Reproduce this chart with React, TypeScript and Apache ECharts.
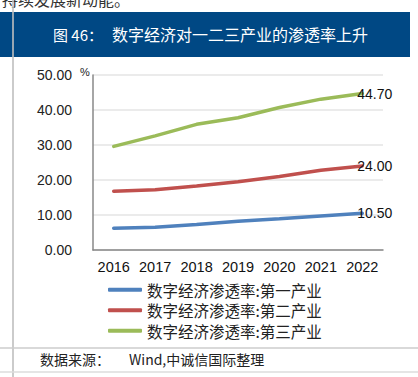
import React, { useEffect, useRef } from "react";
import * as echarts from "echarts";

const years = ["2016", "2017", "2018", "2019", "2020", "2021", "2022"];
const primary = [6.2, 6.5, 7.3, 8.2, 8.9, 9.7, 10.5];
const secondary = [16.8, 17.2, 18.3, 19.5, 21.0, 22.8, 24.0];
const tertiary = [29.6, 32.6, 35.9, 37.8, 40.7, 43.1, 44.7];
const seriesNames = [
  "数字经济渗透率:第一产业",
  "数字经济渗透率:第二产业",
  "数字经济渗透率:第三产业",
];
const colors = ["#4F81BD", "#C0504D", "#9BBB59"];
const titleLabel = "图 46：";
const titleText = "数字经济对一二三产业的渗透率上升";
const sourceLabel = "数据来源：";
const sourceText = "Wind,中诚信国际整理";
const topText = "持续发展新动能。";

const CJK = "'Noto Sans CJK SC', 'Noto Sans', sans-serif";
const NUM = "'Liberation Sans', Arial, sans-serif";

export default function App() {
  const ref = useRef<HTMLDivElement>(null);
  useEffect(() => {
    document.body.style.margin = "0";
    const chart = echarts.init(ref.current!, undefined, { renderer: "svg" });
    const datasets = [primary, secondary, tertiary];
    chart.setOption({
      animation: false,
      backgroundColor: "#ffffff",
      grid: { left: 93, right: 35, top: 75, bottom: 127, containLabel: false },
      legend: {
        orient: "vertical",
        left: 103,
        top: 277,
        itemWidth: 34,
        itemHeight: 4,
        itemGap: 5,
        icon: "roundRect",
        textStyle: { fontSize: 15.5, fontFamily: CJK, color: "#222" },
        data: seriesNames,
      },
      xAxis: {
        type: "category",
        data: years,
        boundaryGap: true,
        axisLine: { lineStyle: { color: "#888", width: 1.5 } },
        axisTick: { show: false },
        axisLabel: {
          interval: 0,
          fontSize: 14.5,
          fontFamily: NUM,
          color: "#111",
          margin: 9,
        },
      },
      yAxis: {
        type: "value",
        min: 0,
        max: 50,
        interval: 10,
        axisLine: { show: true, lineStyle: { color: "#888", width: 1.5 } },
        axisTick: { show: false },
        axisLabel: {
          fontSize: 14,
          fontFamily: NUM,
          color: "#222",
          margin: 21,
          formatter: (v: number) => v.toFixed(2),
        },
        splitLine: { lineStyle: { color: "#e4e4e4", width: 1.5 } },
      },
      series: datasets.map((d, i) => ({
        name: seriesNames[i],
        type: "line",
        data: d,
        color: colors[i],
        showSymbol: false,
        symbol: "none",
        lineStyle: { width: 3.5, color: colors[i], cap: "round" },
        endLabel: {
          show: true,
          distance: -5,
          fontSize: 14,
          fontFamily: NUM,
          color: "#111",
          formatter: (p: any) => Number(p.value).toFixed(2),
        },
      })),
      graphic: [
        {
          type: "text",
          left: 2,
          top: -9,
          style: { text: topText, fontSize: 16, fontFamily: CJK, fill: "#333" },
        },
        {
          type: "rect",
          shape: { x: 0, y: 12, width: 410, height: 45 },
          style: { fill: "#004884" },
        },
        {
          type: "text",
          x: 53,
          y: 34,
          style: {
            text: titleLabel,
            fontSize: 15,
            fontFamily: CJK,
            fill: "#ffffff",
            verticalAlign: "middle",
          },
        },
        {
          type: "text",
          x: 112,
          y: 34,
          style: {
            text: titleText,
            fontSize: 16,
            fontFamily: CJK,
            fill: "#ffffff",
            verticalAlign: "middle",
          },
        },
        {
          type: "line",
          shape: { x1: 13, y1: 0, x2: 13, y2: 377 },
          style: { stroke: "rgba(190,190,190,0.8)", lineWidth: 2 },
        },
        {
          type: "text",
          x: 80,
          y: 66,
          style: { text: "%", fontSize: 11, fontFamily: NUM, fill: "#222" },
        },
        {
          type: "line",
          shape: { x1: 0, y1: 348, x2: 418, y2: 348 },
          style: { stroke: "#cccccc", lineWidth: 1.5 },
        },
        {
          type: "line",
          shape: { x1: 0, y1: 372, x2: 418, y2: 372 },
          style: { stroke: "#dddddd", lineWidth: 1.5 },
        },
        {
          type: "text",
          x: 40,
          y: 359,
          style: {
            text: sourceLabel,
            fontSize: 14,
            fontFamily: CJK,
            fill: "#222",
            verticalAlign: "middle",
          },
        },
        {
          type: "text",
          x: 129,
          y: 359,
          style: {
            text: sourceText,
            fontSize: 14,
            fontFamily: CJK,
            fill: "#222",
            verticalAlign: "middle",
          },
        },
      ],
    });
    return () => chart.dispose();
  }, []);
  return (
    <div
      ref={ref}
      style={{ position: "fixed", left: 0, top: 0, width: 418, height: 377 }}
    />
  );
}
